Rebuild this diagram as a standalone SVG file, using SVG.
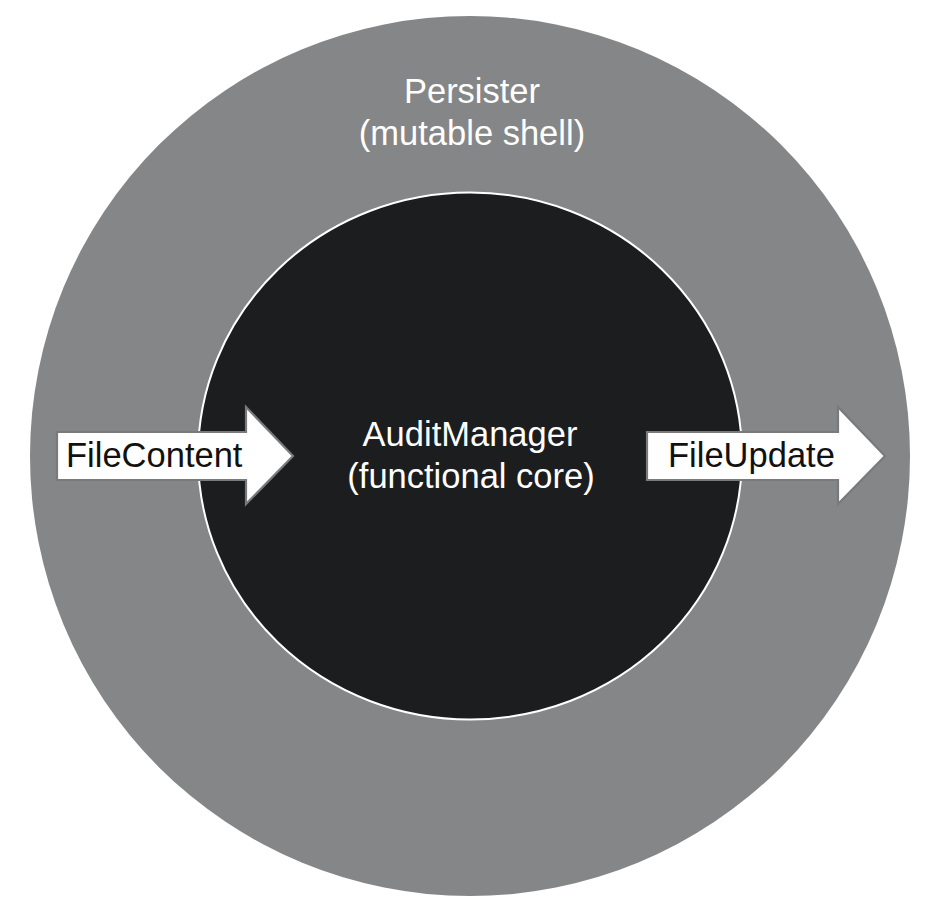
<svg xmlns="http://www.w3.org/2000/svg" width="948" height="922" viewBox="0 0 948 922">
<style>
.lbl{font-family:"Liberation Sans",Arial,sans-serif;font-size:34.5px}
.w{fill:#ffffff}
.k{fill:#111111}
.arrow{fill:#ffffff;stroke:#7a7a7a;stroke-width:2.2;stroke-linejoin:miter}
</style>
<rect width="948" height="922" fill="#ffffff"/>
<g id="persister">
<circle cx="470" cy="456" r="440" fill="#858687"/>
<text class="lbl w" x="472" y="103" text-anchor="middle">Persister</text>
<text class="lbl w" x="472" y="145" text-anchor="middle">(mutable shell)</text>
</g>
<g id="auditmanager">
<ellipse cx="470" cy="456" rx="272" ry="263.5" fill="#1b1d1f" stroke="#ffffff" stroke-width="2"/>
<text class="lbl w" x="470" y="446" text-anchor="middle">AuditManager</text>
<text class="lbl w" x="471" y="488" text-anchor="middle">(functional core)</text>
</g>
<g id="connectors">
<g id="filecontent">
<polygon class="arrow" points="57,432 246,432 246,407 293,456 246,504 246,480 57,480"/>
<text class="lbl k" x="66" y="467">FileContent</text>
</g>
<g id="fileupdate">
<polygon class="arrow" points="647,432 838,432 838,407 885,456 838,504 838,480 647,480"/>
<text class="lbl k" x="668" y="467">FileUpdate</text>
</g>
</g>
</svg>
